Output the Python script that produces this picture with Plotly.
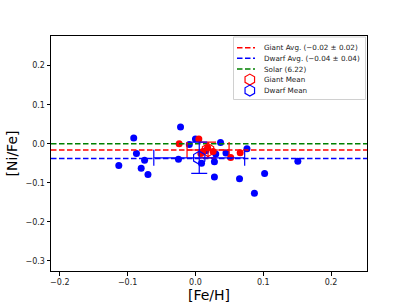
import plotly.graph_objects as go

# Dwarf stars ([Fe/H], [Ni/Fe])
dwarf_feh = [-0.113, -0.091, -0.087, -0.075, -0.080, -0.070, -0.022, -0.025, -0.009, 0.000,
             0.037, 0.045, 0.076, 0.028, 0.028, 0.065, 0.087, 0.102, 0.151, 0.030, 0.009, 0.015]
dwarf_nife = [-0.056, 0.015, -0.025, -0.042, -0.063, -0.079, 0.043, -0.040, -0.002, 0.012,
              0.003, -0.024, -0.013, -0.046, -0.085, -0.090, -0.127, -0.076, -0.045, -0.026, -0.050, -0.018]

# Giant stars
giant_feh = [-0.024, 0.005, 0.052, 0.066, 0.011, 0.026, 0.018, 0.008]
giant_nife = [0.000, 0.012, -0.035, -0.023, -0.020, -0.020, -0.010, -0.025]

# Averages
giant_avg = -0.016
dwarf_avg = -0.038
solar = 0.0

# Means with errors
giant_mean = dict(x=0.0186, y=-0.016, xerr=0.031, yerr=0.02)
dwarf_mean = dict(x=0.0056, y=-0.036, xerr=0.067, yerr=0.04)

legend_labels = ["Giant Avg. (\u22120.02 \u00b1 0.02)", "Dwarf Avg. (\u22120.04 \u00b1 0.04)",
                 "Solar (6.22)", "Giant Mean", "Dwarf Mean"]

x_range = [-0.213, 0.253]
y_range = [-0.326, 0.276]

RED, BLUE, GREEN = "#ff0000", "#0000ff", "#008000"

fig = go.Figure()

fig.add_trace(go.Scatter(x=dwarf_feh, y=dwarf_nife, mode="markers",
                         marker=dict(color=BLUE, size=7), showlegend=False))
fig.add_trace(go.Scatter(x=giant_feh, y=giant_nife, mode="markers",
                         marker=dict(color=RED, size=7), showlegend=False))

for val, col in [(giant_avg, RED), (dwarf_avg, BLUE), (solar, GREEN)]:
    fig.add_trace(go.Scatter(x=x_range, y=[val, val], mode="lines", showlegend=False,
                             line=dict(color=col, width=1.5, dash="5.5px,2.5px")))

for m, col in [(giant_mean, RED), (dwarf_mean, BLUE)]:
    fig.add_trace(go.Scatter(x=[m["x"]], y=[m["y"]], mode="markers", showlegend=False,
                             marker=dict(symbol="hexagon-open", size=13, color=col, line=dict(width=1.2)),
                             error_x=dict(type="data", array=[m["xerr"]], color=col, thickness=1.2, width=8),
                             error_y=dict(type="data", array=[m["yerr"]], color=col, thickness=1.2, width=8)))

# ---- custom legend (upper right, inside the axes) drawn on an overlay [0,1] axis pair ----
L, R, T, B = 51, 367, 36, 271
W, H = R - L, B - T
def px(xp):
    return (xp - L) / W
def py(yp):
    return (B - yp) / H

row_y = [47.7, 58.3, 69.0, 79.6, 90.6]
line_cols = [RED, BLUE, GREEN]
shapes = [dict(type="rect", xref="x2", yref="y2", x0=px(233.5), x1=px(365.5), y0=py(37), y1=py(99.5),
               line=dict(color="#d0d0d0", width=1), fillcolor="white", layer="below")]
for i, col in enumerate(line_cols):
    shapes.append(dict(type="line", xref="x2", yref="y2", x0=px(237), x1=px(255), y0=py(row_y[i]), y1=py(row_y[i]),
                       line=dict(color=col, width=1.5, dash="5.5px,2.5px"), layer="above"))
annotations = []
for i, lab in enumerate(legend_labels):
    annotations.append(dict(x=px(262), y=py(row_y[i]), xref="x2", yref="y2", text=lab, showarrow=False,
                            xanchor="left", yanchor="middle",
                            font=dict(size=7.2, family="DejaVu Sans", color="#222222")))
fig.add_trace(go.Scatter(x=[px(249.8), px(249.8)], y=[py(row_y[3]), py(row_y[4])], mode="markers",
                         xaxis="x2", yaxis="y2", showlegend=False, hoverinfo="skip",
                         marker=dict(symbol="hexagon-open", size=11, color=[RED, BLUE], line=dict(width=1.2))))

axis_common = dict(showgrid=False, zeroline=False, showline=True, linecolor="black", linewidth=1,
                   mirror=True, ticks="outside", ticklen=3.5, tickcolor="black", automargin=False,
                   tickfont=dict(size=8, color="#222222", family="DejaVu Sans"))

fig.update_layout(
    width=407, height=305,
    margin=dict(l=L, r=407 - R, t=T, b=305 - B),
    plot_bgcolor="white", paper_bgcolor="white",
    showlegend=False,
    xaxis=dict(range=x_range, tickvals=[-0.2, -0.1, 0.0, 0.1, 0.2],
               ticktext=["\u22120.2", "\u22120.1", "0.0", "0.1", "0.2"],
               title=dict(text="[Fe/H]", font=dict(size=14, family="DejaVu Sans", color="black"), standoff=2),
               **axis_common),
    yaxis=dict(range=y_range, tickvals=[-0.3, -0.2, -0.1, 0.0, 0.1, 0.2],
               ticktext=["\u22120.3", "\u22120.2", "\u22120.1", "0.0", "0.1", "0.2"],
               title=dict(text="[Ni/Fe]", font=dict(size=14, family="DejaVu Sans", color="black"), standoff=4),
               **axis_common),
    xaxis2=dict(range=[0, 1], overlaying="x", visible=False, fixedrange=True),
    yaxis2=dict(range=[0, 1], overlaying="y", visible=False, fixedrange=True),
    shapes=shapes,
    annotations=annotations,
)

fig.write_html("out.html", config={"displayModeBar": False},
               post_script="document.body.style.margin='0';document.body.style.padding='0';")
